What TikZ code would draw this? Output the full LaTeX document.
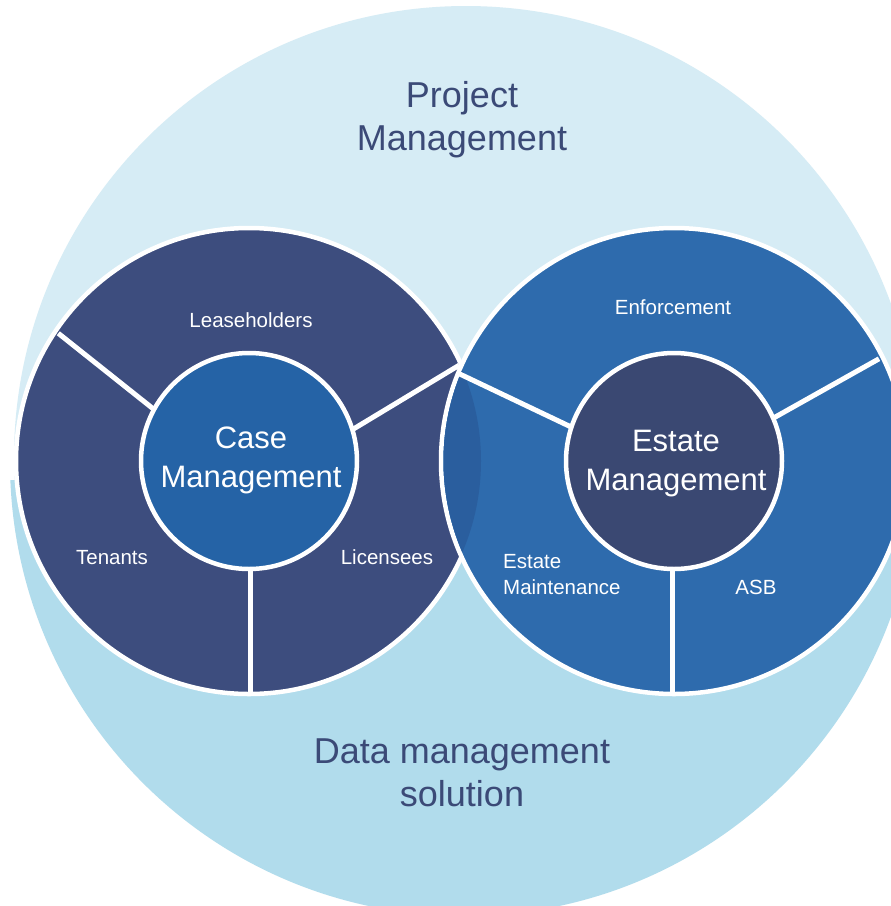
\documentclass[tikz,border=0pt]{standalone}
\usepackage{fontspec}
\setmainfont{Liberation Sans}
\usetikzlibrary{calc}
\definecolor{bgtop}{HTML}{D6ECF5}
\definecolor{bgbot}{HTML}{B1DCEC}
\definecolor{navyring}{HTML}{3D4D7E}
\definecolor{caseblue}{HTML}{2563A6}
\definecolor{ringblue}{HTML}{2E6BAD}
\definecolor{estatenavy}{HTML}{3A4872}
\definecolor{lensblue}{HTML}{2A5E9E}
\definecolor{labeltext}{HTML}{3B4A77}
\tikzset{
  ringdisk/.style={circle, inner sep=0pt, minimum size=466pt, draw=white, line width=4.5pt},
  hubdisk/.style={circle, inner sep=0pt, minimum size=216pt, draw=white, line width=4.5pt},
  divider/.style={draw=white, line width=5pt},
  bigtext/.style={anchor=base, inner sep=0pt, text=labeltext, font=\fontsize{36}{43}\selectfont},
  hubtext/.style={anchor=base, inner sep=0pt, text=white, font=\fontsize{31}{39}\selectfont},
  segtext/.style={anchor=base, inner sep=0pt, text=white, font=\fontsize{20.5}{26}\selectfont}
}
\begin{document}
\begin{tikzpicture}[x=1pt,y=-1pt]
\useasboundingbox (0,0) rectangle (891,906);
\fill[white] (0,0) rectangle (891,906);
% outer circle
\node[circle, inner sep=0pt, minimum size=904pt, fill=bgtop] (big) at (466,458) {};
\coordinate (lowc) at (464,462);
\begin{scope}
  \clip (0,480) rectangle (891,906);
  \fill[bgbot] (lowc) circle (454pt);
\end{scope}
% left ring
\node[ringdisk, fill=navyring] (L) at (249,461) {};
\coordinate (lo1) at (58.3,333.3);
\coordinate (lo2) at (459.2,365.2);
\coordinate (lo3) at (250,692);
\coordinate (lc) at (254,489);
\coordinate (lv) at (250,520);
\draw[divider] (lo1) -- (lc);
\draw[divider] (lo2) -- (lc);
\draw[divider] (lv) -- (lo3);
% right ring
\node[ringdisk, fill=ringblue] (R) at (674,461) {};
\begin{scope}
  \clip (L.center) circle (232pt);
  \fill[lensblue] (R.center) circle (230.5pt);
\end{scope}
\coordinate (ro1) at (458.3,373.3);
\coordinate (ro2) at (879,358.8);
\coordinate (ro3) at (672,692);
\coordinate (rc) at (672,475);
\coordinate (rv) at (672,520);
\draw[divider] (ro1) -- (rc);
\draw[divider] (ro2) -- (rc);
\draw[divider] (rv) -- (ro3);
% hubs
\node[hubdisk, fill=caseblue] (CM) at (249,461) {};
\node[hubdisk, fill=estatenavy] (EM) at (674,461) {};
% texts
\node[bigtext] (pm1) at (462,107) {Project};
\node[bigtext] (pm2) at (462,150) {Management};
\node[bigtext] (dm1) at (462,763.5) {Data management};
\node[bigtext] (dm2) at (462,806.5) {solution};
\node[hubtext] (cm1) at (251,448) {Case};
\node[hubtext] (cm2) at (251,487.5) {Management};
\node[hubtext] (em1) at (676,451) {Estate};
\node[hubtext] (em2) at (676,490) {Management};
\node[segtext] (t1) at (251,327) {Leaseholders};
\node[segtext] (t2) at (112,564) {Tenants};
\node[segtext] (t3) at (387,564) {Licensees};
\node[segtext] (t4) at (673,314) {Enforcement};
\node[segtext, anchor=base west] (t5) at (503,568.3) {Estate};
\node[segtext, anchor=base west] (t6) at (503,594.3) {Maintenance};
\node[segtext] (t7) at (756,594.3) {ASB};
\end{tikzpicture}
\end{document}
